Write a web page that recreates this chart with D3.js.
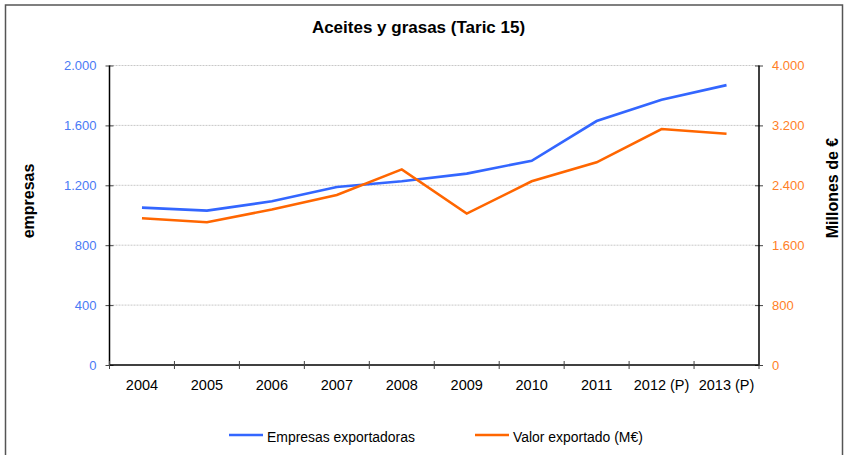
<!DOCTYPE html>
<html>
<head>
<meta charset="utf-8">
<script src="https://cdn.jsdelivr.net/npm/d3@7"></script>
<style>
  body { margin: 0; background: #fff; }
  text { font-family: "Liberation Sans", Arial, sans-serif; }
</style>
</head>
<body>
<svg width="849" height="455"></svg>
<script>
// data
var years = ["2004", "2005", "2006", "2007", "2008", "2009", "2010", "2011", "2012 (P)", "2013 (P)"];
var empresas = [1051, 1031, 1093, 1189, 1227, 1278, 1364, 1629, 1771, 1869];
var valor = [1960, 1907, 2076, 2271, 2613, 2022, 2453, 2707, 3151, 3089];
var leftTicks = [0, 400, 800, 1200, 1600, 2000];
var rightTicks = [0, 800, 1600, 2400, 3200, 4000];

var svg = d3.select("svg");
var blue = "#3366ff", orange = "#ff6600";
var fmt = function(v) { return d3.format(",")(v).replace(/,/g, "."); };

// outer frame
svg.append("rect")
  .attr("x", 5.5).attr("y", 5).attr("width", 837).attr("height", 460)
  .attr("fill", "none").attr("stroke", "#555").attr("stroke-width", 1.5);

var pLeft = 109.5, pRight = 759, pTop = 65.5, pBottom = 365;

var x = d3.scaleBand().domain(years).range([pLeft, pRight]);
var yL = d3.scaleLinear().domain([0, 2000]).range([pBottom, pTop]);
var yR = d3.scaleLinear().domain([0, 4000]).range([pBottom, pTop]);

// gridlines
svg.append("g").selectAll("line")
  .data(leftTicks.filter(function(d) { return d > 0; }))
  .enter().append("line")
  .attr("x1", pLeft).attr("x2", pRight)
  .attr("y1", function(d) { return yL(d); })
  .attr("y2", function(d) { return yL(d); })
  .attr("stroke", "#c8c8c8").attr("stroke-dasharray", "2,1");

// left axis
var gL = svg.append("g").attr("transform", "translate(" + pLeft + ",0)")
  .call(d3.axisLeft(yL).tickValues(leftTicks).tickFormat(fmt).tickSize(4).tickPadding(9));
gL.select(".domain").remove();
gL.selectAll(".tick line").attr("x2", 4).attr("x1", -4).attr("stroke", "#444");
gL.selectAll("text").attr("fill", "#4a7af5").style("font-size", "13px");
svg.append("line").attr("x1", pLeft).attr("x2", pLeft).attr("y1", pTop).attr("y2", pBottom)
  .attr("stroke", "#000").attr("stroke-width", 1.5);

// right axis
var gR = svg.append("g").attr("transform", "translate(" + pRight + ",0)")
  .call(d3.axisRight(yR).tickValues(rightTicks).tickFormat(fmt).tickSize(4).tickPadding(9));
gR.select(".domain").remove();
gR.selectAll(".tick line").attr("x1", -4).attr("x2", 4).attr("stroke", "#444");
gR.selectAll("text").attr("fill", "#ff7f27").style("font-size", "13px");
gL.attr("font-family", null);
gR.attr("font-family", null);
svg.append("line").attr("x1", pRight).attr("x2", pRight).attr("y1", pTop).attr("y2", pBottom)
  .attr("stroke", "#000").attr("stroke-width", 1.5);

// bottom axis
svg.append("line").attr("x1", pLeft).attr("x2", pRight).attr("y1", pBottom).attr("y2", pBottom)
  .attr("stroke", "#000").attr("stroke-width", 1.5);
var bounds = years.map(function(d) { return x(d); }).concat([pRight]);
svg.append("g").selectAll("line").data(bounds).enter().append("line")
  .attr("x1", function(d) { return d; }).attr("x2", function(d) { return d; })
  .attr("y1", pBottom - 4).attr("y2", pBottom + 4)
  .attr("stroke", "#444");
svg.append("g").selectAll("text").data(years).enter().append("text")
  .attr("x", function(d) { return x(d) + x.bandwidth() / 2; })
  .attr("y", pBottom + 25)
  .attr("text-anchor", "middle")
  .style("font-size", "14.5px").attr("fill", "#000")
  .text(function(d) { return d; });

// lines
var cx = function(d, i) { return x(years[i]) + x.bandwidth() / 2; };
svg.append("path").datum(empresas)
  .attr("d", d3.line().x(cx).y(function(d) { return yL(d); }))
  .attr("fill", "none").attr("stroke", blue).attr("stroke-width", 2.6);
svg.append("path").datum(valor)
  .attr("d", d3.line().x(cx).y(function(d) { return yR(d); }))
  .attr("fill", "none").attr("stroke", orange).attr("stroke-width", 2.6);

// title and axis titles
svg.append("text").attr("x", 418.5).attr("y", 32.5).attr("text-anchor", "middle")
  .style("font-size", "17px").style("font-weight", "bold").text("Aceites y grasas (Taric 15)");
svg.append("text").attr("transform", "translate(33.5,201) rotate(-90)").attr("text-anchor", "middle")
  .style("font-size", "16px").style("font-weight", "bold").text("empresas");
svg.append("text").attr("transform", "translate(838,188) rotate(-90)").attr("text-anchor", "middle")
  .style("font-size", "16px").style("font-weight", "bold").text("Millones de €");

// legend
var legend = [{ name: "Empresas exportadoras", color: blue, x: 229 },
              { name: "Valor exportado (M€)", color: orange, x: 475 }];
var lg = svg.append("g").selectAll("g").data(legend).enter().append("g");
lg.append("line")
  .attr("x1", function(d) { return d.x; }).attr("x2", function(d) { return d.x + 34; })
  .attr("y1", 435).attr("y2", 435)
  .attr("stroke", function(d) { return d.color; }).attr("stroke-width", 2.6);
lg.append("text")
  .attr("transform", function(d) { return "translate(" + (d.x + 38) + ",441.5) scale(0.93,1)"; })
  .style("font-size", "15px").text(function(d) { return d.name; });
</script>
</body>
</html>
